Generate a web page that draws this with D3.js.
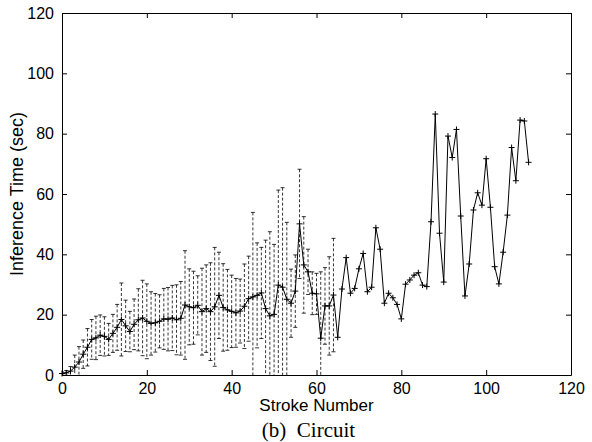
<!DOCTYPE html>
<html>
<head>
<meta charset="utf-8">
<script src="https://cdn.jsdelivr.net/npm/d3@7"></script>
<style>
  body { margin: 0; background: #fff; }
  text { font-family: "Liberation Sans", Arial, sans-serif; }
</style>
</head>
<body>
<div id="chart"></div>
<script>
// mean inference time per stroke (strokes 0..110)
var meanTime = [0.5, 0.7, 1.3, 2.6, 4.3, 6.9, 9.2, 11.8, 12.3, 13.2,
  12.8, 11.8, 13.8, 15.8, 18.4, 16.3, 14.4, 16.8, 18.3, 18.9,
  17.8, 17.1, 17.3, 17.8, 18.6, 18.5, 18.9, 18.3, 18.8, 23.2,
  22.6, 22.3, 23.1, 21.0, 22.0, 21.0, 22.6, 26.4, 22.4, 21.6,
  21.1, 20.6, 21.2, 22.8, 25.3, 25.9, 26.4, 27.2, 22.0, 19.6,
  20.1, 29.8, 29.1, 25.1, 23.8, 27.8, 50.1, 36.5, 34.2, 27.1,
  26.9, 12.2, 22.9, 22.9, 26.5, 12.5, 28.5, 38.9, 27.1, 28.7,
  35.2, 40.3, 27.6, 29.1, 48.8, 41.7, 23.8, 27.1, 25.6, 23.4,
  18.6, 30.1, 31.5, 33.1, 33.9, 29.8, 29.3, 50.8, 86.5, 47.0,
  30.8, 79.2, 72.1, 81.4, 52.7, 26.2, 36.8, 54.7, 60.4, 56.3,
  71.7, 55.6, 35.9, 30.2, 40.7, 53.0, 75.4, 64.4, 84.5, 84.2,
  70.5];

// error bar half-length for strokes 0..64
var errTime = [0.5, 0.8, 1.5, 4.0, 5.1, 4.7, 6.2, 6.6, 7.2, 6.7,
  6.5, 5.3, 6.3, 7.6, 12.1, 8.5, 6.7, 8.4, 10.3, 12.5,
  12.4, 10.5, 9.7, 8.8, 10.1, 10.5, 10.8, 11.6, 12.2, 18.0,
  12.6, 12.1, 9.8, 14.4, 14.5, 16.2, 19.7, 14.3, 14.5, 13.4,
  12.0, 11.4, 10.6, 14.0, 14.1, 28.0, 17.4, 15.1, 22.7, 27.9,
  23.2, 31.5, 33.0, 25.5, 11.3, 12.0, 18.1, 16.0, 7.5, 7.1,
  6.8, 22.0, 12.7, 16.3, 18.8];

var xTicks = [0, 20, 40, 60, 80, 100, 120];
var yTicks = [0, 20, 40, 60, 80, 100, 120];

var width = 592, height = 442;
var margin = {left: 62, right: 21, top: 13, bottom: 67};
var plotW = width - margin.left - margin.right;
var plotH = height - margin.top - margin.bottom;

var svg = d3.select("#chart").append("svg")
    .attr("width", width)
    .attr("height", height);

var x = d3.scaleLinear().domain([0, 120]).range([0, plotW]);
var y = d3.scaleLinear().domain([0, 120]).range([plotH, 0]);

var g = svg.append("g")
    .attr("transform", "translate(" + margin.left + "," + margin.top + ")");

svg.append("defs").append("clipPath").attr("id", "clip")
  .append("rect").attr("width", plotW).attr("height", plotH);

var data = meanTime.map(function(d, i) {
  return {stroke: i, mean: d, err: i < errTime.length ? errTime[i] : null};
});
var errData = data.filter(function(d) { return d.err !== null; });

//error bars (dashed)
var eb = g.append("g").attr("clip-path", "url(#clip)");
eb.selectAll("line.bar")
    .data(errData)
  .enter().append("line")
    .attr("class", "bar")
    .attr("x1", function(d) { return x(d.stroke); })
    .attr("x2", function(d) { return x(d.stroke); })
    .attr("y1", function(d) { return y(d.mean + d.err); })
    .attr("y2", function(d) { return y(d.mean - d.err); })
    .style("stroke", "#000")
    .style("stroke-width", 0.8)
    .style("stroke-dasharray", "3,2");

var caps = [];
errData.forEach(function(d) {
  caps.push({stroke: d.stroke, v: d.mean + d.err});
  caps.push({stroke: d.stroke, v: d.mean - d.err});
});
eb.selectAll("line.cap")
    .data(caps)
  .enter().append("line")
    .attr("class", "cap")
    .attr("x1", function(d) { return x(d.stroke) - 2; })
    .attr("x2", function(d) { return x(d.stroke) + 2; })
    .attr("y1", function(d) { return y(d.v); })
    .attr("y2", function(d) { return y(d.v); })
    .style("stroke", "#000")
    .style("stroke-width", 0.8);

//mean line
var line = d3.line()
    .x(function(d) { return x(d.stroke); })
    .y(function(d) { return y(d.mean); });
g.append("path")
    .datum(data)
    .attr("d", line)
    .style("fill", "none")
    .style("stroke", "#000")
    .style("stroke-width", 1);

//plus markers
var m = 3;
g.append("g").selectAll("path.mark")
    .data(data)
  .enter().append("path")
    .attr("class", "mark")
    .attr("d", function(d) {
      var cx = x(d.stroke), cy = y(d.mean);
      return "M" + (cx - m) + "," + cy + "H" + (cx + m) +
             "M" + cx + "," + (cy - m) + "V" + (cy + m);
    })
    .style("stroke", "#000")
    .style("stroke-width", 1);

//axes box with inward ticks on all sides
var tk = 5;
g.append("g").attr("transform", "translate(0," + plotH + ")")
  .call(d3.axisBottom(x).tickValues(xTicks).tickSizeInner(-tk).tickSizeOuter(0).tickPadding(8));
g.append("g")
  .call(d3.axisTop(x).tickValues(xTicks).tickSizeInner(-tk).tickSizeOuter(0).tickFormat(""));
g.append("g")
  .call(d3.axisLeft(y).tickValues(yTicks).tickSizeInner(-tk).tickSizeOuter(0).tickPadding(8));
g.append("g").attr("transform", "translate(" + plotW + ",0)")
  .call(d3.axisRight(y).tickValues(yTicks).tickSizeInner(-tk).tickSizeOuter(0).tickFormat(""));

g.selectAll(".domain").style("stroke", "#000").style("stroke-width", 1);
g.selectAll(".tick line").style("stroke", "#000");
g.selectAll(".tick text")
    .style("font-family", "'Liberation Sans', Arial, sans-serif")
    .style("font-size", "16px")
    .style("fill", "#000");

// labels
svg.append("text")
    .attr("x", margin.left + plotW / 2)
    .attr("y", 411)
    .attr("text-anchor", "middle")
    .style("font-size", "17px")
    .text("Stroke Number");

svg.append("text")
    .attr("transform", "translate(23," + (margin.top + plotH / 2) + ") rotate(-90)")
    .attr("text-anchor", "middle")
    .style("font-size", "18px")
    .text("Inference Time (sec)");

svg.append("text")
    .attr("x", margin.left + plotW / 2 - 8)
    .attr("y", 437)
    .attr("text-anchor", "middle")
    .style("font-family", "'Liberation Serif', 'Times New Roman', serif")
    .style("font-size", "21px")
    .style("white-space", "pre")
    .text("(b)  Circuit");
</script>
</body>
</html>
